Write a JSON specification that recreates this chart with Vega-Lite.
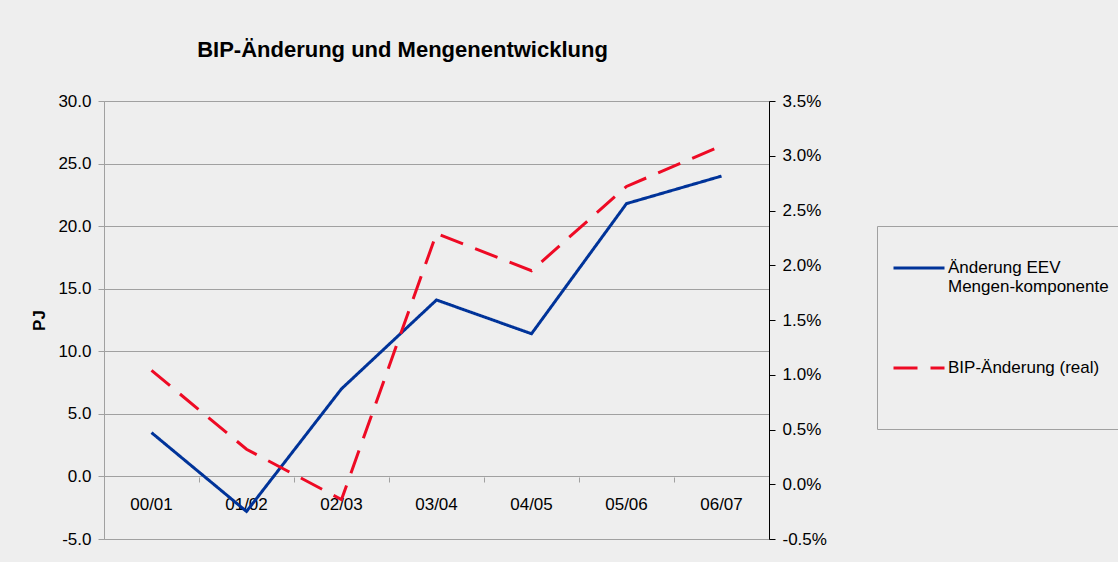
{
  "$schema": "https://vega.github.io/schema/vega-lite/v6.json",
  "width": 665,
  "height": 438,
  "autosize": {"type": "none"},
  "padding": {"left": 104, "top": 101, "right": 349, "bottom": 23},
  "background": "#eeeeee",
  "config": {
    "font": "Liberation Sans",
    "view": {"stroke": "#a0a0a0", "strokeWidth": 1},
    "axis": {"labelFont": "Liberation Sans", "labelFontSize": 17, "labelColor": "#000000", "titleColor": "#000000", "titleFont": "Liberation Sans"}
  },
  "title": {
    "text": "BIP-Änderung und Mengenentwicklung",
    "fontSize": 22,
    "fontWeight": "bold",
    "color": "#000000",
    "font": "Liberation Sans",
    "anchor": "middle",
    "baseline": "alphabetic",
    "dx": -34,
    "offset": 13
  },
  "data": {
    "values": [
      {"period": "00/01", "eev": 3.5, "bip": 0.0104},
      {"period": "01/02", "eev": -2.8, "bip": 0.0032},
      {"period": "02/03", "eev": 7.0, "bip": -0.0014},
      {"period": "03/04", "eev": 14.1, "bip": 0.0229},
      {"period": "04/05", "eev": 11.4, "bip": 0.0195},
      {"period": "05/06", "eev": 21.8, "bip": 0.0272},
      {"period": "06/07", "eev": 24.0, "bip": 0.0309}
    ]
  },
  "layer": [
    {
      "mark": {"type": "line", "strokeWidth": 3, "strokeCap": "butt"},
      "encoding": {
        "x": {
          "field": "period",
          "type": "ordinal",
          "sort": null,
          "scale": {"type": "band", "paddingInner": 0, "paddingOuter": 0},
          "axis": {
            "orient": "bottom",
            "offset": -62,
            "domain": false,
            "ticks": false,
            "tickSize": 0,
            "labelPadding": 19,
            "labelAngle": 0,
            "labelFontSize": 17,
            "title": null,
            "grid": false
          }
        },
        "y": {
          "field": "eev",
          "type": "quantitative",
          "scale": {"domain": [-5, 30], "nice": false, "zero": false},
          "axis": {
            "title": "PJ",
            "titleFontSize": 17,
            "titleFontWeight": "bold",
            "titlePadding": 9,
            "values": [-5, 0, 5, 10, 15, 20, 25, 30],
            "labelExpr": "replace(format(datum.value, '.1f'), '−', '-')",
            "grid": true,
            "gridColor": "#a0a0a0",
            "gridWidth": 1,
            "domainColor": "#a0a0a0",
            "tickColor": "#a0a0a0",
            "tickSize": 6,
            "labelPadding": 7
          }
        },
        "color": {
          "datum": "EEV",
          "scale": {"domain": ["EEV", "BIP"], "range": ["#003399", "#ee0a24"]},
          "legend": {
            "orient": "none",
            "legendX": 773,
            "legendY": 125,
            "title": null,
            "padding": 15,
            "strokeColor": "#a0a0a0",
            "fillColor": "#eeeeee",
            "symbolType": "stroke",
            "symbolSize": 2601,
            "symbolStrokeWidth": 3,
            "labelOffset": 2,
            "labelFontSize": 17,
            "labelFont": "Liberation Sans",
            "labelColor": "#000000",
            "labelBaseline": "middle",
            "labelLimit": 400,
            "rowPadding": 27,
            "labelExpr": "datum.label == 'EEV' ? ['Änderung EEV', 'Mengen-komponente', ' '] : ['BIP-Änderung (real)', ' ', ' ']"
          }
        },
        "strokeDash": {
          "datum": "EEV",
          "scale": {"domain": ["EEV", "BIP"], "range": [[1, 0], [24, 13]]},
          "legend": null
        }
      }
    },
    {
      "mark": {"type": "line", "strokeWidth": 3, "strokeCap": "butt"},
      "encoding": {
        "x": {
          "field": "period",
          "type": "ordinal",
          "sort": null,
          "scale": {"type": "band", "paddingInner": 0, "paddingOuter": 0},
          "axis": {
            "orient": "bottom",
            "offset": -62,
            "domain": false,
            "labels": false,
            "ticks": true,
            "tickSize": 5,
            "tickColor": "#a0a0a0",
            "bandPosition": 0,
            "title": null,
            "grid": false
          }
        },
        "y": {
          "field": "bip",
          "type": "quantitative",
          "scale": {"domain": [-0.005, 0.035], "nice": false, "zero": false},
          "axis": {
            "orient": "right",
            "title": null,
            "values": [-0.005, 0, 0.005, 0.01, 0.015, 0.02, 0.025, 0.03, 0.035],
            "labelExpr": "replace(format(datum.value, '.1%'), '−', '-')",
            "grid": false,
            "domainColor": "#000000",
            "tickColor": "#000000",
            "tickSize": 6,
            "labelPadding": 7
          }
        },
        "color": {"datum": "BIP"},
        "strokeDash": {"datum": "BIP"}
      }
    }
  ],
  "resolve": {"scale": {"y": "independent"}, "axis": {"x": "independent"}}
}
